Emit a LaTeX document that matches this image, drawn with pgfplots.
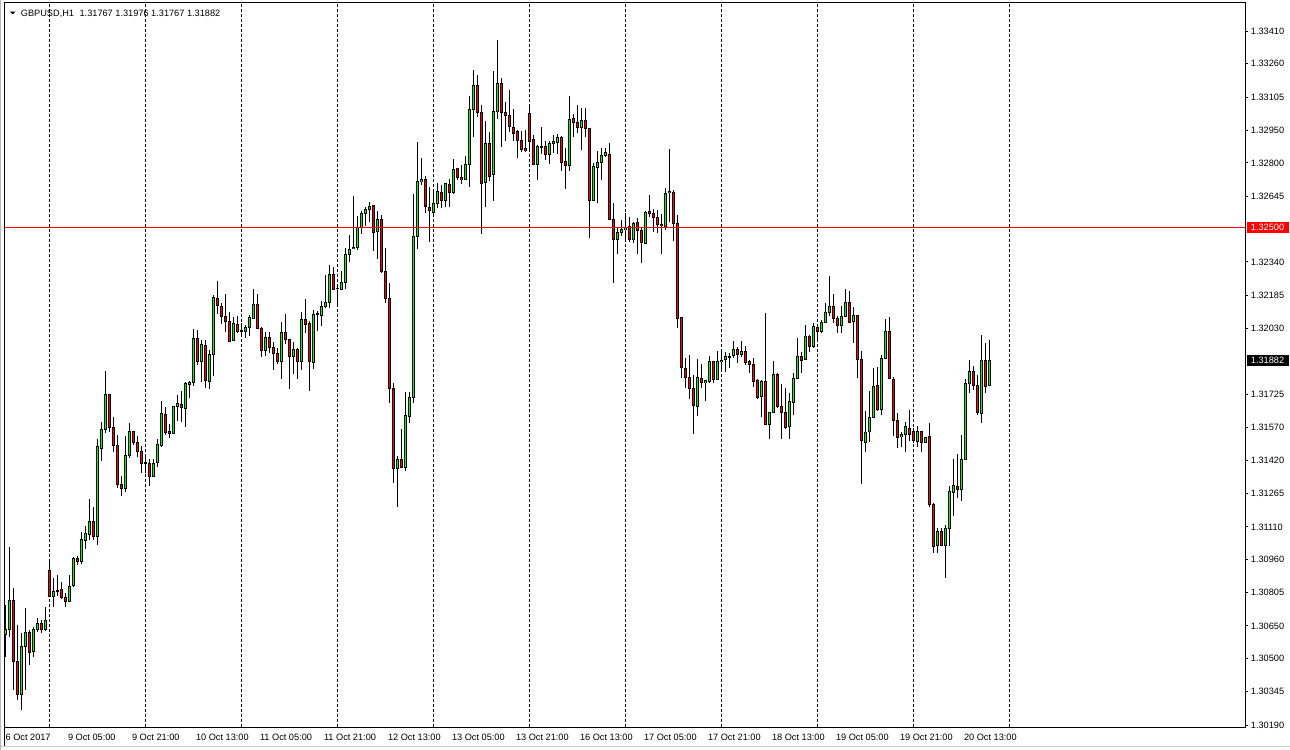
\documentclass[border=0pt]{standalone}
\usepackage{fontspec}
\setmainfont{Liberation Sans}
\usepackage{pgfplots}
\usepackage{pgfplotstable}
\pgfplotsset{compat=1.18}
\newcommand{\lbl}{\fontsize{9.2bp}{11bp}\selectfont}
\definecolor{upc}{RGB}{0,255,0}
\definecolor{dnc}{RGB}{255,0,0}
\pgfplotstableread{
i o h l c
0 1.30613 1.30747 1.30507 1.30634
1 1.30634 1.31018 1.30600 1.30770
2 1.30770 1.30825 1.30352 1.30484
3 1.30484 1.30654 1.30306 1.30332
4 1.30332 1.30616 1.30260 1.30557
5 1.30557 1.30732 1.30352 1.30620
6 1.30620 1.30631 1.30468 1.30530
7 1.30530 1.30646 1.30507 1.30634
8 1.30634 1.30685 1.30623 1.30662
9 1.30662 1.30677 1.30618 1.30634
10 1.30634 1.30736 1.30628 1.30677
11 1.30910 1.30945 1.30783 1.30786
12 1.30786 1.30871 1.30739 1.30812
13 1.30813 1.30886 1.30789 1.30816
14 1.30820 1.30855 1.30774 1.30781
15 1.30783 1.30801 1.30739 1.30762
16 1.30762 1.30886 1.30762 1.30832
17 1.30837 1.30971 1.30832 1.30964
18 1.30964 1.30975 1.30933 1.30953
19 1.30953 1.31087 1.30937 1.31052
20 1.31049 1.31115 1.31006 1.31080
21 1.31075 1.31239 1.31049 1.31137
22 1.31137 1.31203 1.31049 1.31064
23 1.31064 1.31518 1.31024 1.31485
24 1.31477 1.31598 1.31417 1.31563
25 1.31563 1.31833 1.31547 1.31727
26 1.31727 1.31727 1.31552 1.31572
27 1.31572 1.31621 1.31459 1.31490
28 1.31490 1.31536 1.31289 1.31307
29 1.31307 1.31346 1.31255 1.31289
30 1.31289 1.31532 1.31273 1.31443
31 1.31440 1.31593 1.31431 1.31555
32 1.31555 1.31555 1.31490 1.31502
33 1.31502 1.31532 1.31436 1.31459
34 1.31459 1.31485 1.31361 1.31405
35 1.31408 1.31443 1.31361 1.31405
36 1.31405 1.31424 1.31300 1.31343
37 1.31343 1.31424 1.31343 1.31405
38 1.31408 1.31516 1.31389 1.31493
39 1.31487 1.31694 1.31482 1.31637
40 1.31634 1.31668 1.31536 1.31547
41 1.31555 1.31587 1.31521 1.31544
42 1.31544 1.31671 1.31544 1.31671
43 1.31671 1.31721 1.31603 1.31684
44 1.31679 1.31741 1.31598 1.31665
45 1.31660 1.31784 1.31575 1.31776
46 1.31772 1.31787 1.31710 1.31781
47 1.31781 1.32027 1.31765 1.31985
48 1.31985 1.32024 1.31861 1.31881
49 1.31881 1.31977 1.31784 1.31957
50 1.31953 1.31977 1.31753 1.31788
51 1.31784 1.31931 1.31749 1.31911
52 1.31911 1.32186 1.31810 1.32176
53 1.32171 1.32251 1.32097 1.32137
54 1.32137 1.32148 1.32050 1.32086
55 1.32086 1.32190 1.32013 1.32062
56 1.32067 1.32106 1.31974 1.31974
57 1.31974 1.32086 1.31974 1.32052
58 1.32052 1.32090 1.32011 1.32016
59 1.32016 1.32058 1.31993 1.32019
60 1.32016 1.32047 1.31988 1.32036
61 1.32036 1.32094 1.31997 1.32083
62 1.32078 1.32214 1.32075 1.32143
63 1.32143 1.32190 1.32032 1.32032
64 1.32032 1.32036 1.31897 1.31928
65 1.31928 1.32016 1.31903 1.31990
66 1.31990 1.32016 1.31916 1.31942
67 1.31944 1.31970 1.31838 1.31916
68 1.31916 1.31939 1.31866 1.31877
69 1.31877 1.32062 1.31796 1.32013
70 1.32013 1.32097 1.31959 1.31981
71 1.31981 1.31981 1.31750 1.31903
72 1.31903 1.31970 1.31820 1.31934
73 1.31934 1.31939 1.31795 1.31881
74 1.31881 1.32106 1.31838 1.32074
75 1.32074 1.32166 1.32011 1.32050
76 1.32055 1.32066 1.31742 1.31877
77 1.31872 1.32117 1.31843 1.32098
78 1.32097 1.32112 1.32019 1.32100
79 1.32090 1.32159 1.32042 1.32135
80 1.32132 1.32279 1.32127 1.32152
81 1.32152 1.32326 1.32127 1.32283
82 1.32283 1.32315 1.32210 1.32213
83 1.32216 1.32222 1.32132 1.32219
84 1.32213 1.32299 1.32210 1.32245
85 1.32245 1.32403 1.32213 1.32375
86 1.32375 1.32465 1.32341 1.32400
87 1.32403 1.32647 1.32403 1.32408
88 1.32406 1.32553 1.32395 1.32499
89 1.32499 1.32576 1.32470 1.32566
90 1.32566 1.32596 1.32507 1.32584
91 1.32584 1.32618 1.32527 1.32600
92 1.32600 1.32600 1.32392 1.32476
93 1.32480 1.32576 1.32355 1.32538
94 1.32538 1.32558 1.32290 1.32299
95 1.32299 1.32403 1.32151 1.32171
96 1.32171 1.32241 1.31684 1.31753
97 1.31753 1.31776 1.31315 1.31382
98 1.31382 1.31439 1.31204 1.31424
99 1.31424 1.31563 1.31382 1.31385
100 1.31385 1.31737 1.31371 1.31625
101 1.31625 1.31737 1.31591 1.31711
102 1.31711 1.32655 1.31686 1.32457
103 1.32457 1.32895 1.32400 1.32712
104 1.32712 1.32821 1.32697 1.32724
105 1.32724 1.32739 1.32569 1.32596
106 1.32594 1.32686 1.32434 1.32578
107 1.32569 1.32674 1.32553 1.32612
108 1.32612 1.32705 1.32589 1.32668
109 1.32663 1.32697 1.32589 1.32624
110 1.32624 1.32705 1.32594 1.32702
111 1.32702 1.32724 1.32594 1.32661
112 1.32661 1.32816 1.32655 1.32770
113 1.32775 1.32777 1.32720 1.32733
114 1.32733 1.32790 1.32702 1.32724
115 1.32724 1.32832 1.32720 1.32793
116 1.32793 1.33110 1.32686 1.33049
117 1.33049 1.33231 1.32919 1.33161
118 1.33161 1.33208 1.33014 1.33035
119 1.33035 1.33069 1.32468 1.32705
120 1.32708 1.32996 1.32596 1.32891
121 1.32891 1.32945 1.32717 1.32739
122 1.32747 1.33226 1.32624 1.33041
123 1.33041 1.33370 1.33002 1.33169
124 1.33169 1.33195 1.32875 1.33033
125 1.33035 1.33084 1.32901 1.33019
126 1.33022 1.33138 1.32942 1.32968
127 1.32965 1.33050 1.32901 1.32940
128 1.32945 1.32952 1.32824 1.32903
129 1.32903 1.32948 1.32852 1.32864
130 1.32867 1.32952 1.32852 1.32856
131 1.33030 1.33065 1.32856 1.32903
132 1.32909 1.32929 1.32790 1.32793
133 1.32793 1.32883 1.32720 1.32878
134 1.32875 1.32965 1.32840 1.32878
135 1.32878 1.32901 1.32813 1.32840
136 1.32840 1.32901 1.32793 1.32891
137 1.32891 1.32929 1.32847 1.32901
138 1.32898 1.32934 1.32840 1.32919
139 1.32919 1.32925 1.32762 1.32805
140 1.32809 1.32867 1.32679 1.32787
141 1.32787 1.33110 1.32762 1.33004
142 1.33004 1.33025 1.32921 1.32988
143 1.32988 1.33069 1.32940 1.32965
144 1.32965 1.33056 1.32860 1.32999
145 1.32999 1.33053 1.32921 1.32960
146 1.32960 1.32960 1.32452 1.32627
147 1.32627 1.32801 1.32624 1.32785
148 1.32782 1.32855 1.32612 1.32803
149 1.32803 1.32867 1.32720 1.32836
150 1.32836 1.32870 1.32828 1.32847
151 1.32841 1.32894 1.32535 1.32538
152 1.32538 1.32615 1.32244 1.32445
153 1.32445 1.32499 1.32375 1.32477
154 1.32477 1.32535 1.32460 1.32491
155 1.32491 1.32566 1.32437 1.32499
156 1.32507 1.32547 1.32434 1.32445
157 1.32445 1.32527 1.32426 1.32519
158 1.32524 1.32545 1.32375 1.32485
159 1.32488 1.32504 1.32336 1.32429
160 1.32426 1.32578 1.32422 1.32570
161 1.32576 1.32651 1.32550 1.32566
162 1.32566 1.32586 1.32480 1.32547
163 1.32547 1.32581 1.32473 1.32515
164 1.32516 1.32561 1.32375 1.32508
165 1.32508 1.32682 1.32488 1.32659
166 1.32661 1.32864 1.32527 1.32666
167 1.32666 1.32674 1.32439 1.32519
168 1.32519 1.32558 1.32032 1.32078
169 1.32083 1.32086 1.31800 1.31849
170 1.31849 1.31892 1.31753 1.31804
171 1.31804 1.31908 1.31702 1.31753
172 1.31753 1.31815 1.31540 1.31672
173 1.31672 1.31889 1.31626 1.31804
174 1.31800 1.31866 1.31753 1.31781
175 1.31781 1.31792 1.31696 1.31790
176 1.31788 1.31903 1.31779 1.31880
177 1.31880 1.31880 1.31776 1.31796
178 1.31795 1.31926 1.31792 1.31880
179 1.31877 1.31923 1.31828 1.31885
180 1.31888 1.31920 1.31830 1.31903
181 1.31899 1.31919 1.31846 1.31902
182 1.31905 1.31973 1.31892 1.31934
183 1.31934 1.31946 1.31869 1.31911
184 1.31911 1.31973 1.31900 1.31926
185 1.31926 1.31950 1.31861 1.31872
186 1.31877 1.31885 1.31823 1.31865
187 1.31865 1.31892 1.31758 1.31784
188 1.31792 1.31795 1.31702 1.31710
189 1.31714 1.31792 1.31621 1.31787
190 1.31787 1.32104 1.31583 1.31586
191 1.31586 1.31642 1.31516 1.31642
192 1.31642 1.31881 1.31637 1.31818
193 1.31818 1.31823 1.31660 1.31672
194 1.31672 1.31772 1.31516 1.31642
195 1.31642 1.31753 1.31563 1.31575
196 1.31575 1.31730 1.31516 1.31691
197 1.31691 1.31823 1.31629 1.31800
198 1.31800 1.31985 1.31796 1.31900
199 1.31900 1.31920 1.31826 1.31881
200 1.31888 1.32047 1.31885 1.31993
201 1.31993 1.32001 1.31923 1.31946
202 1.31946 1.32055 1.31944 1.32039
203 1.32036 1.32042 1.31970 1.32016
204 1.32016 1.32070 1.32011 1.32060
205 1.32060 1.32151 1.32055 1.32106
206 1.32106 1.32275 1.32089 1.32135
207 1.32135 1.32191 1.32055 1.32078
208 1.32078 1.32089 1.32009 1.32044
209 1.32044 1.32135 1.32009 1.32089
210 1.32089 1.32214 1.32083 1.32152
211 1.32152 1.32205 1.32055 1.32062
212 1.32062 1.32129 1.31962 1.32089
213 1.32089 1.32089 1.31802 1.31888
214 1.31888 1.31926 1.31307 1.31510
215 1.31502 1.31648 1.31459 1.31549
216 1.31552 1.31741 1.31506 1.31619
217 1.31619 1.31846 1.31614 1.31765
218 1.31765 1.31851 1.31648 1.31656
219 1.31656 1.31908 1.31629 1.31893
220 1.31893 1.32074 1.31888 1.32019
221 1.32019 1.32083 1.31795 1.31800
222 1.31795 1.31807 1.31532 1.31606
223 1.31606 1.31637 1.31475 1.31526
224 1.31529 1.31552 1.31482 1.31540
225 1.31540 1.31598 1.31459 1.31578
226 1.31568 1.31653 1.31510 1.31541
227 1.31555 1.31568 1.31498 1.31510
228 1.31509 1.31580 1.31482 1.31555
229 1.31555 1.31557 1.31459 1.31502
230 1.31502 1.31529 1.31498 1.31526
231 1.31532 1.31591 1.31204 1.31215
232 1.31215 1.31222 1.30987 1.31018
233 1.31023 1.31103 1.30987 1.31091
234 1.31091 1.31106 1.31023 1.31023
235 1.31023 1.31119 1.30871 1.31103
236 1.31103 1.31301 1.31023 1.31277
237 1.31270 1.31425 1.31160 1.31301
238 1.31301 1.31448 1.31243 1.31284
239 1.31284 1.31536 1.31231 1.31425
240 1.31424 1.31795 1.31420 1.31776
241 1.31776 1.31885 1.31730 1.31834
242 1.31834 1.31857 1.31746 1.31769
243 1.31769 1.31815 1.31629 1.31642
244 1.31637 1.32001 1.31594 1.31885
245 1.31885 1.31962 1.31730 1.31765
246 1.31767 1.31976 1.31767 1.31882
}\candles
\begin{document}
\begin{tikzpicture}
\path[use as bounding box] (0,0) rectangle (1290bp,750bp);
\fill[white] (0,0) rectangle (1290bp,750bp);
\begin{axis}[
  at={(4bp,22.7bp)}, anchor=south west,
  scale only axis, width=1241.3bp, height=724.3bp,
  xmin=-0.45, xmax=309.875,
  ymin=1.301794, ymax=1.335424,
  axis line style={black, line width=1bp},
  tick label style={font=\lbl},
  xtick={11,35,...,251}, xticklabels={},
  xtick style={draw=none},
  xmajorgrids,
  major x grid style={black, line width=1bp, dash pattern=on 3bp off 2bp},
  extra x ticks={0,16,...,240},
  extra x tick labels={\hspace{1.6bp}6 Oct 2017,9 Oct 05:00,9 Oct 21:00,10 Oct 13:00,11 Oct 05:00,11 Oct 21:00,12 Oct 13:00,13 Oct 05:00,13 Oct 21:00,16 Oct 13:00,17 Oct 05:00,17 Oct 21:00,18 Oct 13:00,19 Oct 05:00,19 Oct 21:00,20 Oct 13:00},
  extra x tick style={grid=none, major tick length=0pt,
    xticklabel style={anchor=base west, inner sep=0pt, xshift=-2bp, yshift=-13.5bp}},
  ytick={1.30190,1.30345,1.30500,1.30650,1.30805,1.30960,1.31110,1.31265,1.31420,1.31570,1.31725,1.32030,1.32185,1.32340,1.32645,1.32800,1.32950,1.33105,1.33260,1.33410},
  yticklabels={1.30190,1.30345,1.30500,1.30650,1.30805,1.30960,1.31110,1.31265,1.31420,1.31570,1.31725,1.32030,1.32185,1.32340,1.32645,1.32800,1.32950,1.33105,1.33260,1.33410},
  ytick pos=right, yticklabel pos=right, tick align=outside,
  major tick length=3bp,
  ytick style={black, line width=1bp},
  yticklabel style={anchor=west, inner sep=0pt, xshift=2.4bp},
]
% wicks
\addplot[black, only marks, mark=*, mark size=0pt, mark options={draw=none, fill=none},
  error bars/.cd, y dir=both, y explicit, error mark=none,
  error bar style={draw=black, solid, line width=1bp}]
  table[x=i, y=o, y error plus expr=\thisrow{h}-\thisrow{o}, y error minus expr=\thisrow{o}-\thisrow{l}] {\candles};
% body outline
\addplot[black, only marks, mark=*, mark size=0pt, mark options={draw=none, fill=none},
  error bars/.cd, y dir=both, y explicit, error mark=none,
  error bar style={draw=black, solid, line width=3bp}]
  table[x=i, y expr=(\thisrow{o}+\thisrow{c})/2, y error expr=abs(\thisrow{c}-\thisrow{o})/2+0.0000232] {\candles};
% up fill
\addplot[upc, only marks, mark=*, mark size=0pt, mark options={draw=none, fill=none},
  error bars/.cd, y dir=both, y explicit, error mark=none,
  error bar style={draw=upc, solid, line width=1.1bp}]
  table[x=i, y expr={\thisrow{c}>\thisrow{o} ? (\thisrow{o}+\thisrow{c})/2 : nan}, y error expr={max(abs(\thisrow{c}-\thisrow{o})/2-0.0000232,0)}] {\candles};
% down fill
\addplot[dnc, only marks, mark=*, mark size=0pt, mark options={draw=none, fill=none},
  error bars/.cd, y dir=both, y explicit, error mark=none,
  error bar style={draw=dnc, solid, line width=1.1bp}]
  table[x=i, y expr={\thisrow{c}<\thisrow{o} ? (\thisrow{o}+\thisrow{c})/2 : nan}, y error expr={max(abs(\thisrow{c}-\thisrow{o})/2-0.0000232,0)}] {\candles};
% horizontal level line
\addplot[red, line width=1bp] coordinates {(-1,1.32500) (320,1.32500)};
\coordinate (rl) at (axis cs:309.875,1.32500);
\coordinate (bl) at (axis cs:309.875,1.31882);
\end{axis}
% price markers
\fill[red] ([xshift=1.4bp,yshift=-5.5bp]rl) rectangle ([xshift=43.7bp,yshift=5.5bp]rl);
\node[anchor=west, inner sep=0pt, text=white, font=\lbl] at ([xshift=5.4bp]rl) {1.32500};
\fill[black] ([xshift=1.4bp,yshift=-5.5bp]bl) rectangle ([xshift=43.7bp,yshift=5.5bp]bl);
\node[anchor=west, inner sep=0pt, text=white, font=\lbl] at ([xshift=5.4bp]bl) {1.31882};
% header
\fill[black] (10bp,738.3bp) -- (15.5bp,738.3bp) -- (12.75bp,735.5bp) -- cycle;
\node[anchor=base west, inner sep=0pt, font=\lbl] at (20.7bp,733.3bp) {GBPUSD,H1\hspace{3bp} 1.31767 1.31976 1.31767 1.31882};
% window edges
\draw[black, line width=1bp] (4bp,3.3bp) -- (4bp,22.7bp);
\draw[gray!35, line width=1bp] (0,3.3bp) -- (1290bp,3.3bp);
\draw[gray!55, line width=1bp] (0.5bp,0) -- (0.5bp,750bp);
\end{tikzpicture}
\end{document}
